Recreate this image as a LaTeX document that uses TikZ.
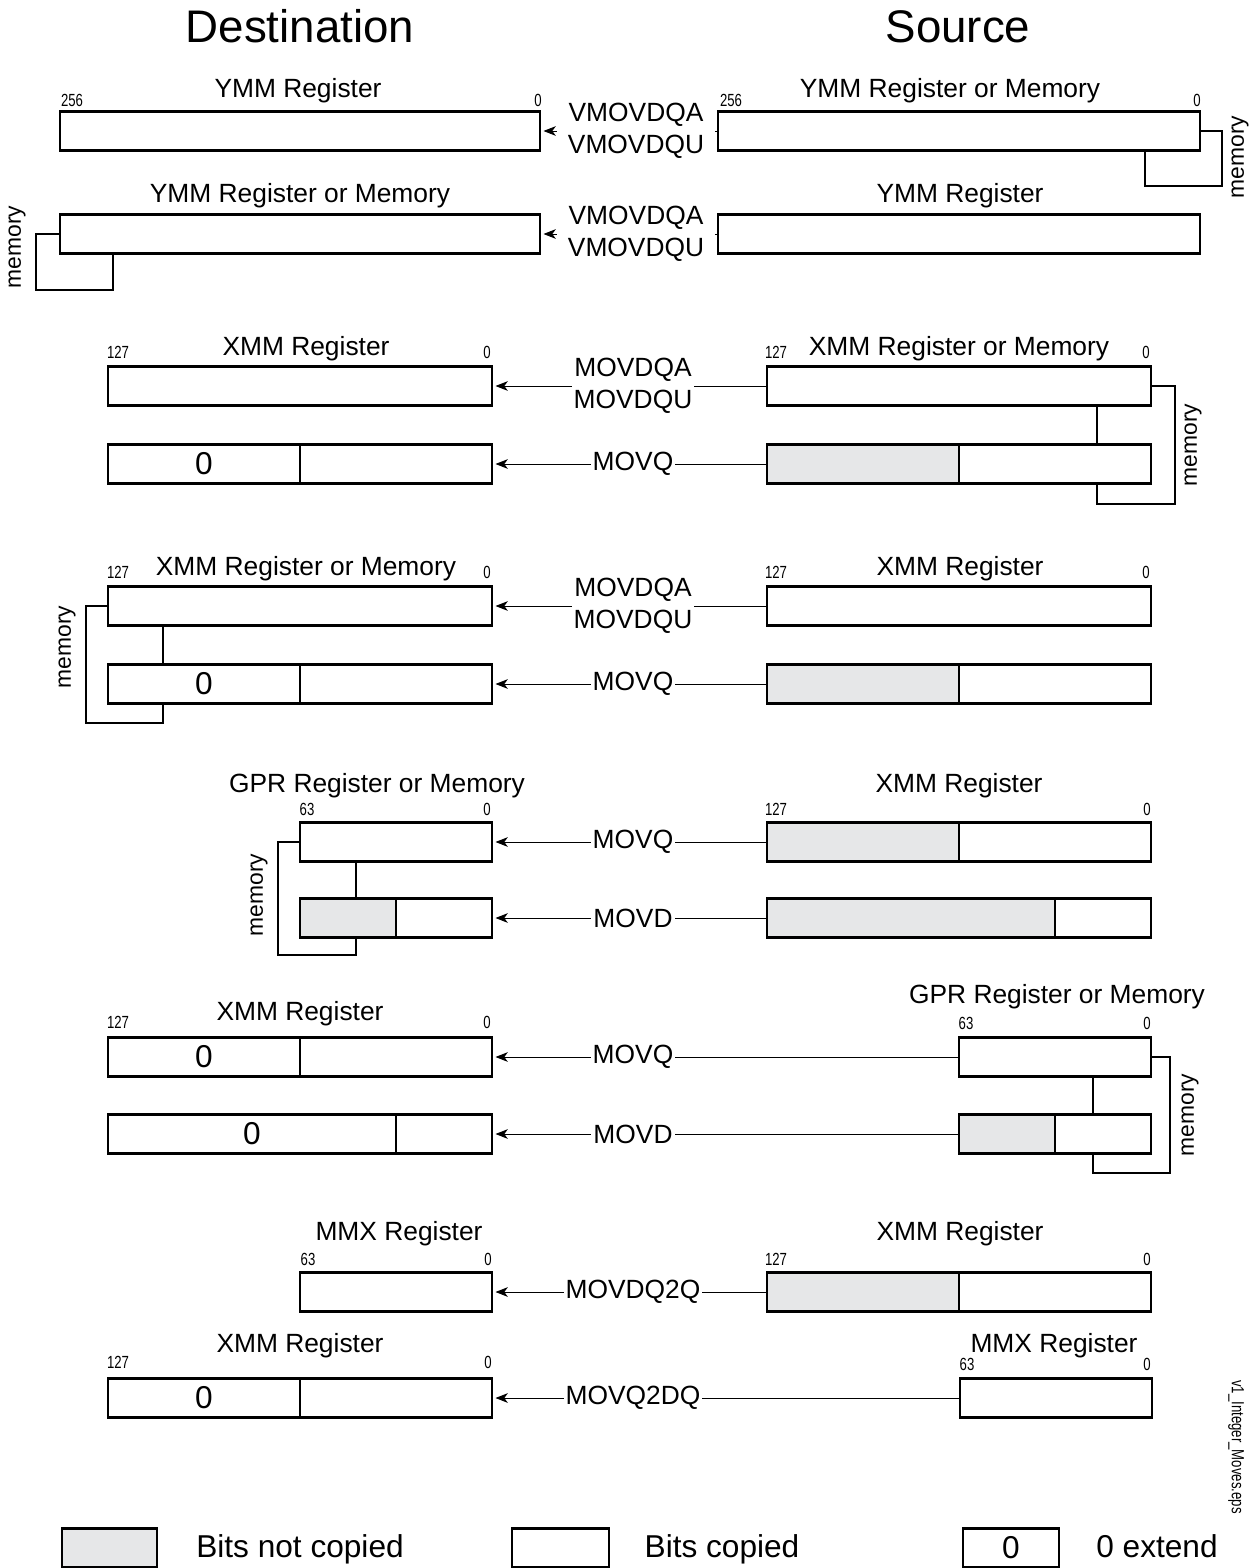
\documentclass[tikz,border=0pt]{standalone}
\usepackage{fontspec}
\setmainfont{Liberation Sans}
\newfontfamily\narrowfont[FakeStretch=0.75]{Liberation Sans}
\usetikzlibrary{arrows.meta}
\definecolor{notcopied}{RGB}{230,231,232}

\begin{document}
\begin{tikzpicture}[x=0.02cm,y=-0.02cm,
    reg/.style={draw,line width=1.3pt,minimum width=#1*0.02cm,minimum height=0.78cm,
      inner sep=0pt,outer sep=0pt,anchor=west,font=\fontsize{18}{18}\selectfont},
    reg/.default=384,
    move/.style={line width=0.5pt,shorten >=2pt,-{Stealth[length=7pt,width=5.5pt,inset=2pt]}},
    op/.style={fill=white,inner xsep=1.2pt,inner ysep=1pt,align=center,font=\fontsize{15}{18}\selectfont},
    title/.style={anchor=base,inner sep=0pt,font=\fontsize{26}{26}\selectfont},
    regname/.style={anchor=base,inner sep=0pt,font=\fontsize{15}{15}\selectfont},
    bitno/.style={anchor=base,inner sep=0pt,font=\narrowfont\fontsize{10}{10}\selectfont},
    mem/.style={line width=1pt},
    memname/.style={rotate=90,inner sep=0pt,font=\fontsize{13}{13}\selectfont},
    legend/.style={anchor=base,inner sep=0pt,font=\fontsize{18}{18}\selectfont}]
    \useasboundingbox (0,0) rectangle (1260,1568);

    \node[title] (dst) at (300,43) {Destination};
    \node[title] (src) at (958,43) {Source};

    % register names
    \foreach \x/\y/\t [count=\i] in {298/97/YMM Register, 950/97/YMM Register or Memory,
        300/202/YMM Register or Memory, 960/202/YMM Register,
        306/355/XMM Register, 959/355/XMM Register or Memory,
        306/575/XMM Register or Memory, 960/575/XMM Register,
        377/792/GPR Register or Memory, 959/792/XMM Register,
        300/1020/XMM Register, 1057/1003/GPR Register or Memory,
        399/1240/MMX Register, 960/1240/XMM Register,
        300/1352/XMM Register, 1054/1352/MMX Register}
      \node[regname] (name\i) at (\x,\y) {\t};

    % bit numbers
    \foreach \x/\y/\t [count=\i] in {72/107/256, 538/107/0, 731/107/256, 1197/107/0,
        118/358/127, 487/358/0, 776/358/127, 1146/358/0,
        118/578/127, 487/578/0, 776/578/127, 1146/578/0,
        307/815/63, 487/815/0, 776/815/127, 1147/815/0,
        118/1028/127, 487/1028/0, 966/1029/63, 1147/1029/0,
        308/1265/63, 488/1265/0, 776/1265/127, 1147/1265/0,
        118/1368/127, 488/1368/0, 967/1370/63, 1147/1370/0}
      \node[bitno] (bit\i) at (\x,\y) {\t};

    % YMM moves
    \node[reg=480] (d1) at (60,131) {};
    \node[reg=482] (s1) at (718,131) {};
    \node[reg=480] (d2) at (60,234) {};
    \node[reg=482] (s2) at (718,234) {};
    \draw[move] (s1.west) -- (d1.east);
    \draw[move] (s2.west) -- (d2.east);
    \node[op,inner xsep=6pt] (o1) at (636,131) {VMOVDQA\\VMOVDQU};
    \node[op,inner xsep=6pt] (o2) at (636,234) {VMOVDQA\\VMOVDQU};
    \coordinate (m1) at (1145,186);
    \draw[mem] (s1.east) -- ++(22,0) |- (m1) -- (m1 |- s1.south);
    \node[memname] (mn1) at (1240,157) {memory};
    \coordinate (m2) at (113,290);
    \draw[mem] (d2.west) -- ++(-24,0) |- (m2) -- (m2 |- d2.south);
    \node[memname] (mn2) at (17,247) {memory};

    % XMM <- XMM or memory
    \node[reg] (d3) at (108,386) {};
    \node[reg] (s3) at (767,386) {};
    \node[reg=192] (d3z) at (108,464) {0};
    \node[reg=192] (d3r) at (d3z.east) {};
    \node[reg=192,fill=notcopied] (s3g) at (767,464) {};
    \node[reg=192] (s3r) at (s3g.east) {};
    \draw[move] (s3.west) -- (d3.east);
    \draw[move] (s3g.west) -- (d3r.east);
    \node[op] (o3) at (633,386) {MOVDQA\\MOVDQU};
    \node[op] (o3b) at (633,464) {MOVQ};
    \coordinate (m3) at (1097,504);
    \draw[mem] (s3.east) -- ++(24,0) |- (m3) -- (m3 |- s3r.south);
    \draw[mem] (m3 |- s3.south) -- (m3 |- s3r.north);
    \node[memname] (mn3) at (1193,445) {memory};

    % XMM or memory <- XMM
    \node[reg] (d4) at (108,606) {};
    \node[reg] (s4) at (767,606) {};
    \node[reg=192] (d4z) at (108,684) {0};
    \node[reg=192] (d4r) at (d4z.east) {};
    \node[reg=192,fill=notcopied] (s4g) at (767,684) {};
    \node[reg=192] (s4r) at (s4g.east) {};
    \draw[move] (s4.west) -- (d4.east);
    \draw[move] (s4g.west) -- (d4r.east);
    \node[op] (o4) at (633,606) {MOVDQA\\MOVDQU};
    \node[op] (o4b) at (633,684) {MOVQ};
    \coordinate (m4) at (163,723);
    \draw[mem] (d4.west) -- ++(-22,0) |- (m4) -- (m4 |- d4z.south);
    \draw[mem] (m4 |- d4.south) -- (m4 |- d4z.north);
    \node[memname] (mn4) at (67,647) {memory};

    % GPR or memory <- XMM
    \node[reg=192] (d5) at (300,842) {};
    \node[reg=192,fill=notcopied] (s5g) at (767,842) {};
    \node[reg=192] (s5r) at (s5g.east) {};
    \node[reg=96,fill=notcopied] (d5g) at (300,918) {};
    \node[reg=96] (d5r) at (d5g.east) {};
    \node[reg=288,fill=notcopied] (s5bg) at (767,918) {};
    \node[reg=96] (s5br) at (s5bg.east) {};
    \draw[move] (s5g.west) -- (d5.east);
    \draw[move] (s5bg.west) -- (d5r.east);
    \node[op] (o5) at (633,842) {MOVQ};
    \node[op] (o5b) at (633,918) {MOVD};
    \coordinate (m5) at (356,955);
    \draw[mem] (d5.west) -- ++(-22,0) |- (m5) -- (m5 |- d5g.south);
    \draw[mem] (m5 |- d5.south) -- (m5 |- d5g.north);
    \node[memname] (mn5) at (259,895) {memory};

    % XMM <- GPR or memory
    \node[reg=192] (d6z) at (108,1057) {0};
    \node[reg=192] (d6r) at (d6z.east) {};
    \node[reg=192] (s6) at (959,1057) {};
    \node[reg=288] (d6bz) at (108,1134) {0};
    \node[reg=96] (d6br) at (d6bz.east) {};
    \node[reg=96,fill=notcopied] (s6bg) at (959,1134) {};
    \node[reg=96] (s6br) at (s6bg.east) {};
    \draw[move] (s6.west) -- (d6r.east);
    \draw[move] (s6bg.west) -- (d6br.east);
    \node[op] (o6) at (633,1057) {MOVQ};
    \node[op] (o6b) at (633,1134) {MOVD};
    \coordinate (m6) at (1093,1173);
    \draw[mem] (s6.east) -- ++(19,0) |- (m6) -- (m6 |- s6br.south);
    \draw[mem] (m6 |- s6.south) -- (m6 |- s6br.north);
    \node[memname] (mn6) at (1190,1115) {memory};

    % MMX <-> XMM
    \node[reg=192] (d7) at (300,1292) {};
    \node[reg=192,fill=notcopied] (s7g) at (767,1292) {};
    \node[reg=192] (s7r) at (s7g.east) {};
    \node[reg=192] (d8z) at (108,1398) {0};
    \node[reg=192] (d8r) at (d8z.east) {};
    \node[reg=192] (s8) at (960,1398) {};
    \draw[move] (s7g.west) -- (d7.east);
    \draw[move] (s8.west) -- (d8r.east);
    \node[op] (o7) at (633,1292) {MOVDQ2Q};
    \node[op] (o8) at (633,1398) {MOVQ2DQ};

    \node[rotate=-90,inner sep=0pt,font=\narrowfont\fontsize{10}{10}\selectfont] (fname) at (1236,1447) {v1\_Integer\_Moves.eps};

    % legend
    \node[reg=95,fill=notcopied] (k1) at (62,1548) {};
    \node[legend] (k1t) at (300,1557) {Bits not copied};
    \node[reg=97] (k2) at (512,1548) {};
    \node[legend] (k2t) at (722,1557) {Bits copied};
    \node[reg=96] (k3) at (963,1548) {0};
    \node[legend] (k3t) at (1157,1557) {0 extend};
  \end{tikzpicture}
\end{document}
